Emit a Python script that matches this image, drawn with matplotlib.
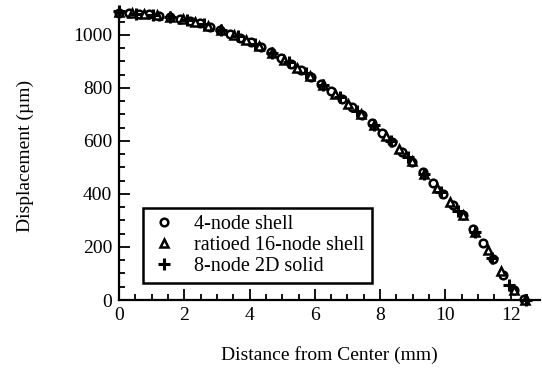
import matplotlib
matplotlib.use("Agg")
import matplotlib.pyplot as plt
from matplotlib.ticker import MultipleLocator

# 4-node shell (circles)
x_shell4 = [0.00, 0.31, 0.62, 0.93, 1.24, 1.55, 1.86, 2.17, 2.48, 2.79, 3.10, 3.41,
            3.72, 4.03, 4.34, 4.65, 4.96, 5.27, 5.58, 5.89, 6.20, 6.51, 6.82, 7.13,
            7.44, 7.75, 8.06, 8.37, 8.68, 8.99, 9.30, 9.61, 9.92, 10.23, 10.54,
            10.85, 11.16, 11.47, 11.78, 12.09, 12.40]
y_shell4 = [1082, 1081, 1079, 1077, 1072, 1067, 1060, 1052, 1043, 1031, 1019, 1004,
            989, 972, 954, 934, 913, 890, 866, 841, 815, 787, 758, 729,
            698, 666, 631, 596, 559, 521, 482, 442, 401, 359, 319,
            269, 216, 154, 96, 37, 5]

# ratioed 16-node shell (triangles)
x_shell16 = [0.00, 0.39, 0.78, 1.17, 1.56, 1.95, 2.34, 2.73, 3.12, 3.51, 3.90, 4.29,
             4.68, 5.07, 5.46, 5.85, 6.24, 6.63, 7.02, 7.41, 7.80, 8.19, 8.58, 8.97,
             9.36, 9.75, 10.14, 10.53, 10.92, 11.31, 11.70, 12.09, 12.45]
y_shell16 = [1085, 1081, 1078, 1073, 1066, 1058, 1047, 1034, 1018, 1000, 980, 958,
             932, 905, 875, 843, 811, 776, 740, 701, 660, 617, 571, 523,
             474, 423, 371, 320, 257, 187, 110, 38, 0]

# 8-node 2D solid (plus)
x_solid = [0.00, 0.52, 1.04, 1.56, 2.08, 2.60, 3.12, 3.64, 4.16, 4.68, 5.20, 5.72,
           6.24, 6.76, 7.28, 7.80, 8.32, 8.84, 9.36, 9.88, 10.40, 10.92, 11.44,
           11.96, 12.48]
y_solid = [1088, 1080, 1075, 1067, 1056, 1039, 1019, 994, 965, 933, 896, 855,
           811, 764, 714, 660, 601, 539, 474, 406, 334, 258, 160, 58, 0]

plt.rcParams['font.family'] = ['Liberation Serif', 'DejaVu Serif']
plt.rcParams['font.size'] = 14

fig = plt.figure(figsize=(5.42, 3.73), dpi=100)
ax = fig.add_axes([0.2196, 0.1957, 0.7767, 0.775])

ax.plot(x_shell4, y_shell4, linestyle='none', marker='o', markersize=5.5,
        markerfacecolor='white', markeredgecolor='black', markeredgewidth=1.8,
        label='4-node shell', clip_on=False, zorder=3)
ax.plot(x_shell16, y_shell16, linestyle='none', marker='^', markersize=5.5,
        markerfacecolor='white', markeredgecolor='black', markeredgewidth=1.8,
        label='ratioed 16-node shell', clip_on=False, zorder=3)
ax.plot(x_solid, y_solid, linestyle='none', marker='+', markersize=8,
        color='black', markeredgewidth=2.2, label='8-node 2D solid',
        clip_on=False, zorder=3)

ax.set_xlim(0, 12.9)
ax.set_ylim(0, 1090)
ax.xaxis.set_major_locator(MultipleLocator(2))
ax.xaxis.set_minor_locator(MultipleLocator(0.5))
ax.yaxis.set_major_locator(MultipleLocator(200))
ax.yaxis.set_minor_locator(MultipleLocator(50))
ax.tick_params(which='both', direction='in', width=1.3, colors='black')
ax.tick_params(which='major', length=8, pad=5)
ax.tick_params(which='minor', length=4)

for s in ['top', 'right']:
    ax.spines[s].set_visible(False)
for s in ['left', 'bottom']:
    ax.spines[s].set_linewidth(1.6)

ax.set_xlabel('Distance from Center (mm)', labelpad=16)
ax.set_ylabel('Displacement (\u00b5m)', labelpad=28)

leg = ax.legend(loc='lower left', bbox_to_anchor=(0.057, 0.059), frameon=True,
                fancybox=False, edgecolor='black', handlelength=1.4,
                handletextpad=0.8, borderpad=0.35, labelspacing=0.1,
                borderaxespad=0, fontsize=14.5, framealpha=1)
leg.get_frame().set_linewidth(1.8)

fig.savefig('out.png', dpi=100)
